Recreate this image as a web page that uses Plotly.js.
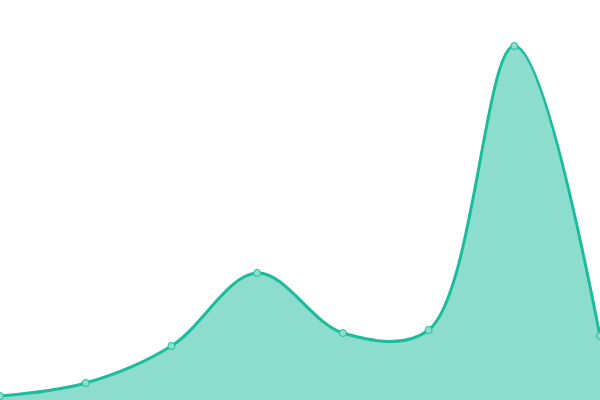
<!DOCTYPE html>
<html>
<head>
<meta charset="utf-8">
<script src="https://cdn.plot.ly/plotly-3.0.1.min.js"></script>
<style>
  html, body { margin: 0; padding: 0; background: #fff; }
  #chart { width: 600px; height: 400px; }
</style>
</head>
<body>
<div id="chart"></div>
<script>
'use strict';

// Data
var steps = [0, 1, 2, 3, 4, 5, 6, 7];
var values = [4, 17, 54, 127, 67, 70, 354, 64];

var trace = {
    type: 'scatter',
    x: steps,
    y: values,
    mode: 'lines+markers',
    fill: 'tozeroy',
    fillcolor: 'rgba(26,188,156,0.5)',
    line: {
        shape: 'spline',
        smoothing: 1,
        color: '#1abc9c',
        width: 3
    },
    marker: {
        size: 7,
        color: '#8ee0cc',
        line: { color: '#1abc9c', width: 1 }
    },
    hoverinfo: 'none',
    showlegend: false
};

Plotly.newPlot('chart', [trace], {
    width: 600,
    height: 400,
    margin: { t: 0, b: 0, l: 0, r: 0 },
    paper_bgcolor: '#ffffff',
    plot_bgcolor: '#ffffff',
    xaxis: {
        range: [0, 7],
        visible: false,
        showgrid: false,
        zeroline: false
    },
    yaxis: {
        range: [0, 400],
        visible: false,
        showgrid: false,
        zeroline: false
    }
}, { displayModeBar: false, staticPlot: true });
</script>
</body>
</html>
